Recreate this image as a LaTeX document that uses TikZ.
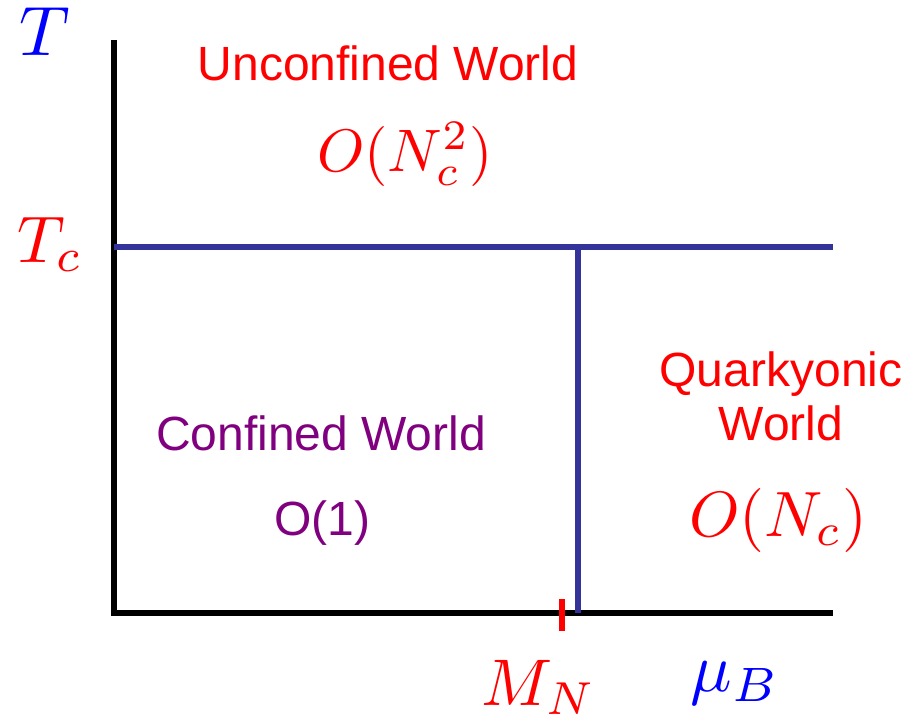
\RequirePackage{fix-cm}
\documentclass[tikz,border=0pt]{standalone}
\usepackage{fontspec}
\setsansfont{Liberation Sans}
\usepackage{graphicx}
\usepackage{tikz}
\definecolor{phaseblue}{RGB}{51, 51, 153}
\definecolor{axisblue}{RGB}{0, 0, 255}
\definecolor{hotred}{RGB}{255, 0, 0}
\definecolor{confpurple}{RGB}{128, 0, 128}
\newcommand{\bigmath}[2][3.2]{\scalebox{#1}{$#2$}}

\begin{document}
\begin{tikzpicture}[
    x=0.5pt, y=-0.5pt,
    axis/.style={line width=3pt, draw=black},
    boundary/.style={line width=3pt, draw=phaseblue},
    tick/.style={line width=3pt, draw=hotred},
    region/.style={font=\sffamily\fontsize{24}{27}\selectfont, anchor=base, inner sep=0pt, align=center},
    order/.style={anchor=base, inner sep=0pt},
    axlabel/.style={anchor=base, inner sep=0pt}
]
\useasboundingbox (0,0) rectangle (917,723);

% Axes corners
\coordinate (ttop) at (114,40);
\coordinate (origin) at (114,613);
\coordinate (muend) at (833,613);
\coordinate (tcleft) at (114,247);
\coordinate (tcright) at (833,247);
\coordinate (mntop) at (578,247);
\coordinate (mnbot) at (578,613);
\coordinate (ticktop) at (562,599);
\coordinate (tickbot) at (562,631);

% Axes
\draw[axis] (ttop) -- (origin) -- (muend);

% Phase boundaries
\draw[boundary] (tcleft) -- (tcright);
\draw[boundary] (mntop) -- (mnbot);

% Nucleon mass tick
\draw[tick] (ticktop) -- (tickbot);

% Axis labels
\node[axlabel, text=axisblue] (tlab) at (45,55) {\bigmath[3.5]{T}};
\node[axlabel, text=hotred] (tclab) at (50,262) {\bigmath[3.3]{T_c}};
\node[axlabel, text=hotred] (mnlab) at (539,705) {\bigmath[3.3]{M_N}};
\node[axlabel, text=axisblue] (mulab) at (735,691) {\bigmath[3.45]{\mu_B}};

% Regions
\node[region, text=hotred] (unconf) at (388,80) {Unconfined World};
\node[order, text=hotred] (unconford) at (405,171) {\bigmath[3.0]{O(N_c^2)}};
\node[region, text=confpurple] (conf) at (321,450) {Confined World};
\node[region, text=confpurple] (conford) at (322,535) {O(1)};
\node[region, text=hotred] (quark) at (781,386) {Quarkyonic};
\node[region, text=hotred] (quarkw) at (781,440) {World};
\node[order, text=hotred] (quarkord) at (778,536) {\bigmath{O(N_c)}};

\end{tikzpicture}
\end{document}
